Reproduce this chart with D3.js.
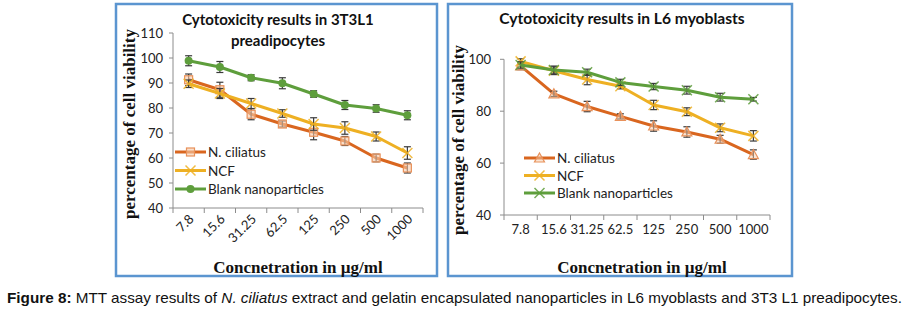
<!DOCTYPE html>
<html>
<head>
<meta charset="utf-8">
<script src="https://cdn.jsdelivr.net/npm/d3@7"></script>
<style>
  body { margin: 0; background: #fff; }
  svg { display: block; }
</style>
</head>
<body>
<svg id="chart" width="906" height="313"></svg>
<script>
// concentrations (x categories)
const concentrations = ["7.8", "15.6", "31.25", "62.5", "125", "250", "500", "1000"];
const seriesNames = ["N. ciliatus", "NCF", "Blank nanoparticles"];

// 3T3L1 preadipocytes
const adipoCiliatus = [91.3, 87.3, 77.5, 73.6, 70.3, 66.8, 60.0, 56.0];
const adipoCiliatusErr = [2.3, 3.0, 2.2, 1.2, 3.0, 1.8, 1.5, 2.0];
const adipoNCF = [89.7, 85.8, 81.8, 77.8, 73.6, 72.0, 68.6, 62.0];
const adipoNCFErr = [1.5, 2.0, 2.0, 1.5, 2.5, 2.5, 1.8, 2.5];
const adipoBlank = [98.9, 96.4, 92.1, 89.9, 85.6, 81.2, 79.8, 77.1];
const adipoBlankErr = [2.0, 2.2, 1.2, 2.2, 1.3, 1.8, 1.5, 1.8];

// L6 myoblasts
const myoCiliatus = [97.5, 86.7, 81.8, 78.0, 74.3, 72.0, 69.2, 63.3];
const myoCiliatusErr = [1.5, 1.0, 2.0, 1.0, 2.0, 2.0, 1.5, 1.8];
const myoNCF = [99.2, 95.6, 92.2, 89.6, 82.4, 79.8, 73.6, 70.5];
const myoNCFErr = [1.0, 1.5, 2.0, 1.0, 1.8, 1.5, 1.5, 2.0];
const myoBlank = [97.8, 95.9, 95.0, 91.1, 89.5, 88.1, 85.4, 84.6];
const myoBlankErr = [1.2, 1.5, 1.2, 1.2, 1.2, 1.5, 1.5, 0.7];

const colors = ["#d9661f", "#eeb023", "#5e9e3c"];
const tickFont = "Lato, 'Open Sans', sans-serif";
const serif = "'Liberation Serif', 'DejaVu Serif', serif";

const svg = d3.select("#chart");

function drawPanel(cfg) {
    const g = svg.append("g");

    // panel frame
    g.append("rect")
        .attr("x", cfg.frame[0]).attr("y", cfg.frame[1])
        .attr("width", cfg.frame[2]).attr("height", cfg.frame[3])
        .attr("fill", "#fff").attr("stroke", "#5b95d0").attr("stroke-width", 2.5);

    const x = d3.scaleBand().domain(concentrations).range([cfg.x0, cfg.x1]);
    const y = d3.scaleLinear().domain(cfg.yDomain).range([cfg.yBottom, cfg.yTop]);
    const cx = d => x(d) + x.bandwidth() / 2;

    // y axis
    g.append("line")
        .attr("x1", cfg.x0).attr("x2", cfg.x0)
        .attr("y1", y(cfg.yDomain[1])).attr("y2", y(cfg.yDomain[0]))
        .attr("stroke", "#8c8c8c").attr("stroke-width", 1);
    const yt = d3.range(cfg.yDomain[0], cfg.yDomain[1] + 0.1, cfg.yStep);
    g.selectAll(".ytick").data(yt).join("line")
        .attr("x1", cfg.x0 - 4).attr("x2", cfg.x0)
        .attr("y1", d => y(d)).attr("y2", d => y(d))
        .attr("stroke", "#8c8c8c");
    g.selectAll(".ylab").data(yt).join("text")
        .attr("x", cfg.x0 - cfg.yLabGap).attr("y", d => y(d) + 4.5)
        .attr("text-anchor", "end")
        .attr("font-family", tickFont).attr("font-size", 13).attr("fill", "#222")
        .text(d => d);

    // x axis
    g.append("line")
        .attr("x1", cfg.x0).attr("x2", cfg.x1)
        .attr("y1", cfg.yBottom).attr("y2", cfg.yBottom)
        .attr("stroke", "#8c8c8c");
    const edges = concentrations.map(d => x(d)).concat([cfg.x1]);
    g.selectAll(".xtick").data(edges).join("line")
        .attr("x1", d => d).attr("x2", d => d)
        .attr("y1", cfg.yBottom).attr("y2", cfg.yBottom + 5)
        .attr("stroke", "#8c8c8c");
    const xl = g.selectAll(".xlab").data(concentrations).join("text")
        .attr("font-family", tickFont).attr("font-size", 13).attr("fill", "#222")
        .text(d => d);
    if (cfg.rotate) {
        xl.attr("text-anchor", "end")
          .attr("transform", d => `translate(${cx(d) + 6},${cfg.yBottom + 12}) rotate(-45)`);
    } else {
        xl.attr("text-anchor", "middle")
          .attr("x", d => cx(d)).attr("y", cfg.yBottom + 19);
    }

    // series
    const line = d3.line().x((d, i) => cx(concentrations[i])).y(d => y(d));
    cfg.series.forEach((s, k) => {
        const col = colors[k];
        g.append("path").datum(s.values)
            .attr("d", line).attr("fill", "none")
            .attr("stroke", col).attr("stroke-width", 3).attr("stroke-linejoin", "round");

        // error bars
        const eb = g.append("g").attr("stroke", "#3a3a3a").attr("stroke-width", 1.2);
        s.values.forEach((v, i) => {
            const px = cx(concentrations[i]);
            const e = s.err[i];
            eb.append("line").attr("x1", px).attr("x2", px).attr("y1", y(v - e)).attr("y2", y(v + e));
            eb.append("line").attr("x1", px - 3.5).attr("x2", px + 3.5).attr("y1", y(v - e)).attr("y2", y(v - e));
            eb.append("line").attr("x1", px - 3.5).attr("x2", px + 3.5).attr("y1", y(v + e)).attr("y2", y(v + e));
        });

        s.values.forEach((v, i) => {
            drawMarker(g, s.marker, cx(concentrations[i]), y(v), col);
        });

        // legend entry
        const ly = cfg.legendY + k * cfg.legendStep;
        g.append("line")
            .attr("x1", cfg.legendX).attr("x2", cfg.legendX + 31)
            .attr("y1", ly).attr("y2", ly)
            .attr("stroke", col).attr("stroke-width", 3);
        drawMarker(g, s.marker, cfg.legendX + 15.5, ly, col);
        g.append("text")
            .attr("x", cfg.legendX + 33).attr("y", ly + 5)
            .attr("font-family", tickFont).attr("font-size", 13.5).attr("fill", "#222")
            .text(seriesNames[k]);
    });

    // titles
    cfg.title.forEach((t, i) => {
        g.append("text")
            .attr("x", cfg.titleX).attr("y", cfg.titleY + i * 21)
            .attr("text-anchor", "middle")
            .attr("font-family", tickFont).attr("font-weight", "bold")
            .attr("font-size", cfg.titleSize).attr("fill", "#111")
            .text(t);
    });

    g.append("text")
        .attr("transform", `translate(${cfg.yTitleX},${cfg.yTitleY}) rotate(-90)`)
        .attr("text-anchor", "middle")
        .attr("font-family", serif).attr("font-weight", "bold")
        .attr("font-size", 17).attr("fill", "#111")
        .text("percentage of cell viability");

    g.append("text")
        .attr("x", cfg.xTitleX).attr("y", 273)
        .attr("text-anchor", "middle")
        .attr("font-family", serif).attr("font-weight", "bold")
        .attr("font-size", 17).attr("fill", "#111")
        .text("Concnetration in \u00b5g/ml");
}

function drawMarker(g, type, px, py, col) {
    const r = 4;
    if (type === "square") {
        g.append("rect").attr("x", px - r).attr("y", py - r)
            .attr("width", 2 * r).attr("height", 2 * r)
            .attr("fill", "#f6c9a8").attr("fill-opacity", 0.6)
            .attr("stroke", "#e8915a").attr("stroke-width", 1.2);
    } else if (type === "triangle") {
        g.append("path")
            .attr("d", `M${px},${py - r - 1}L${px + r + 1},${py + r}L${px - r - 1},${py + r}Z`)
            .attr("fill", "#f6c9a8").attr("fill-opacity", 0.5)
            .attr("stroke", "#e8915a").attr("stroke-width", 1.2);
    } else if (type === "cross") {
        g.append("path")
            .attr("d", `M${px - r - 1},${py - r - 1}L${px + r + 1},${py + r + 1}M${px - r - 1},${py + r + 1}L${px + r + 1},${py - r - 1}`)
            .attr("stroke", col).attr("stroke-width", 1.5).attr("stroke-opacity", 0.85);
    } else if (type === "circle") {
        g.append("circle").attr("cx", px).attr("cy", py).attr("r", r)
            .attr("fill", col);
    }
}

drawPanel({
    frame: [116, 4, 321, 272],
    x0: 173, x1: 423, yTop: 33, yBottom: 208,
    yDomain: [40, 110], yStep: 10, rotate: true, yLabGap: 10,
    series: [
        { values: adipoCiliatus, err: adipoCiliatusErr, marker: "square" },
        { values: adipoNCF, err: adipoNCFErr, marker: "cross" },
        { values: adipoBlank, err: adipoBlankErr, marker: "circle" }
    ],
    legendX: 175, legendY: 152, legendStep: 18.5,
    title: ["Cytotoxicity results in 3T3L1", "preadipocytes"], titleX: 278, titleY: 25, titleSize: 15,
    yTitleX: 135, yTitleY: 124, xTitleX: 298
});

drawPanel({
    frame: [448, 4, 344, 272],
    x0: 504, x1: 770, yTop: 59.3, yBottom: 215,
    yDomain: [40, 100], yStep: 20, rotate: false, yLabGap: 13,
    series: [
        { values: myoCiliatus, err: myoCiliatusErr, marker: "triangle" },
        { values: myoNCF, err: myoNCFErr, marker: "cross" },
        { values: myoBlank, err: myoBlankErr, marker: "cross" }
    ],
    legendX: 524, legendY: 158, legendStep: 17.5,
    title: ["Cytotoxicity results in L6 myoblasts"], titleX: 622, titleY: 24, titleSize: 15.6,
    yTitleX: 464, yTitleY: 140, xTitleX: 642
});

// caption
const cap = svg.append("text")
    .attr("x", 7).attr("y", 303)
    .attr("font-family", "'Liberation Sans Narrow', 'Arial Narrow', 'Liberation Sans', sans-serif")
    .attr("font-size", 14.5).attr("fill", "#111")
    .attr("textLength", 895).attr("lengthAdjust", "spacingAndGlyphs");
cap.append("tspan").attr("font-weight", "bold").text("Figure 8: ");
cap.append("tspan").text("MTT assay results of ");
cap.append("tspan").attr("font-style", "italic").text("N. ciliatus");
cap.append("tspan").text(" extract and gelatin encapsulated nanoparticles in L6 myoblasts and 3T3 L1 preadipocytes.");
</script>
</body>
</html>
